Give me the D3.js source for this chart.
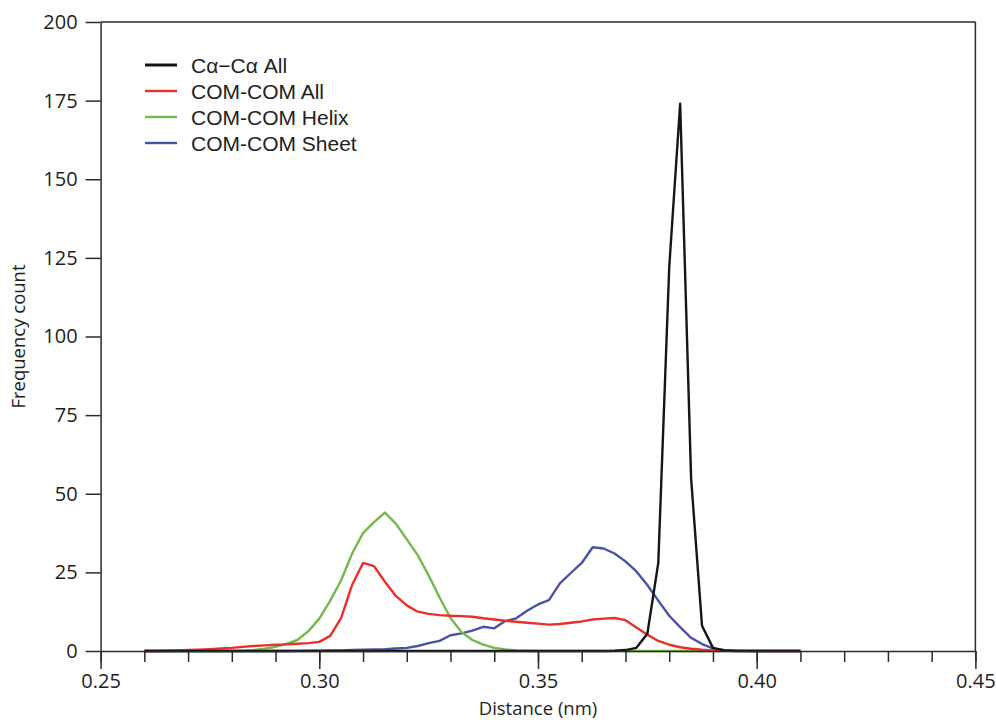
<!DOCTYPE html>
<html>
<head>
<meta charset="utf-8">
<script src="https://cdn.jsdelivr.net/npm/d3@7"></script>
<style>
  body { margin: 0; background: #fff; }
  svg { display: block; }
  .axis text { font-family: "Open Sans", "Noto Sans", sans-serif; font-size: 20px; fill: #1e1e1e; }
  .axis path, .axis line { stroke: #2a2a2a; stroke-width: 1.5; }
  .label { font-family: "Open Sans", "Noto Sans", sans-serif; font-size: 18.5px; fill: #1e1e1e; }
  .legend text { font-family: "Liberation Sans", Arial, sans-serif; font-size: 21px; fill: #222; }
</style>
</head>
<body>
<svg width="996" height="720"></svg>
<script>
// bin centres (nm)
var distance = [0.26, 0.2625, 0.265, 0.2675, 0.27, 0.2725, 0.275, 0.2775, 0.28, 0.2825,
  0.285, 0.2875, 0.29, 0.2925, 0.295, 0.2975, 0.30, 0.3025, 0.305, 0.3075,
  0.31, 0.3125, 0.315, 0.3175, 0.32, 0.3225, 0.325, 0.3275, 0.33, 0.3325,
  0.335, 0.3375, 0.34, 0.3425, 0.345, 0.3475, 0.35, 0.3525, 0.355, 0.3575,
  0.36, 0.3625, 0.365, 0.3675, 0.37, 0.3725, 0.375, 0.3775, 0.38, 0.3825,
  0.385, 0.3875, 0.39, 0.3925, 0.395, 0.3975, 0.40, 0.4025, 0.405, 0.4075, 0.41];

var caAll = [0, 0, 0, 0, 0, 0, 0, 0, 0, 0,
  0, 0, 0, 0, 0, 0, 0, 0, 0, 0,
  0, 0, 0, 0, 0, 0, 0, 0, 0, 0,
  0, 0, 0, 0, 0, 0, 0, 0, 0, 0,
  0, 0, 0, 0.1, 0.3, 1, 5.5, 28, 122, 174,
  55, 8, 1, 0.2, 0, 0, 0, 0, 0, 0, 0];

var comAll = [0, 0, 0.1, 0.2, 0.3, 0.45, 0.6, 0.8, 1.0, 1.3,
  1.6, 1.8, 2.0, 2.1, 2.3, 2.5, 2.9, 4.8, 10.5, 21,
  28, 27, 22, 17.5, 14.5, 12.5, 11.8, 11.4, 11.2, 11.1,
  10.9, 10.4, 10, 9.6, 9.3, 9.0, 8.7, 8.4, 8.6, 9.0,
  9.4, 10.0, 10.3, 10.5, 9.8, 7.5, 5.2, 3.2, 2.0, 1.2,
  0.7, 0.4, 0.2, 0.15, 0.1, 0.05, 0, 0, 0, 0, 0];

var comHelix = [0, 0, 0, 0, 0, 0, 0, 0, 0, 0,
  0.3, 0.7, 1.3, 2.3, 3.5, 6.3, 10.3, 16, 22.5, 31,
  37.5, 41, 44, 40.5, 35.5, 30.5, 24, 17, 10.5, 6,
  3.5, 2, 1, 0.5, 0.2, 0.1, 0, 0, 0, 0,
  0, 0, 0, 0, 0, 0, 0, 0, 0, 0,
  0, 0, 0, 0, 0, 0, 0, 0, 0, 0, 0];

var comSheet = [0, 0, 0, 0, 0, 0, 0, 0, 0, 0,
  0, 0, 0, 0, 0.05, 0.1, 0.1, 0.15, 0.2, 0.3,
  0.4, 0.5, 0.6, 0.8, 1.0, 1.6, 2.5, 3.2, 5.0, 5.6,
  6.5, 7.7, 7.2, 9.5, 10.4, 12.8, 14.8, 16.2, 21.5, 24.8,
  28, 33, 32.6, 31, 28.5, 25.3, 21, 16, 11.2, 7.6,
  4.2, 2.2, 0.8, 0.3, 0.1, 0.05, 0, 0, 0, 0, 0];

var seriesNames = ["C\u03b1\u2212C\u03b1 All", "COM-COM All", "COM-COM Helix", "COM-COM Sheet"];
var seriesColors = ["#151515", "#e8302a", "#74b94a", "#4a53a3"];
var seriesValues = [caAll, comAll, comHelix, comSheet];

var xMajor = [0.25, 0.30, 0.35, 0.40, 0.45];
var yTicks = [0, 25, 50, 75, 100, 125, 150, 175, 200];

var svg = d3.select("svg");

var x = d3.scaleLinear().domain([0.25, 0.45]).range([100.6, 975.4]);
var y = d3.scaleLinear().domain([0, 200]).range([651, 22]);

// frame: top and right
svg.append("line")
    .attr("x1", x(0.25)).attr("x2", x(0.45))
    .attr("y1", y(200)).attr("y2", y(200))
    .attr("stroke", "#2a2a2a").attr("stroke-width", 1.5);
svg.append("line")
    .attr("x1", x(0.45)).attr("x2", x(0.45))
    .attr("y1", y(200)).attr("y2", y(0))
    .attr("stroke", "#2a2a2a").attr("stroke-width", 1.5);

var line = d3.line()
    .x(function(d, i) { return x(distance[i]); })
    .y(function(d) { return y(d); });

// draw sheet, helix, all, then black on top
[3, 2, 1, 0].forEach(function(k) {
  svg.append("path")
      .datum(seriesValues[k])
      .attr("fill", "none")
      .attr("stroke", seriesColors[k])
      .attr("stroke-width", 2.4)
      .attr("stroke-linejoin", "round")
      .attr("d", line);
});

// minor x ticks
svg.append("g")
    .attr("class", "axis")
    .attr("transform", "translate(0," + y(0) + ")")
    .call(d3.axisBottom(x).ticks(20).tickSize(11).tickFormat(""))
    .call(function(g) { g.select(".domain").remove(); });

// major x ticks
svg.append("g")
    .attr("class", "axis")
    .attr("transform", "translate(0," + y(0) + ")")
    .call(d3.axisBottom(x).tickValues(xMajor).tickSize(18).tickSizeOuter(0)
      .tickPadding(5).tickFormat(d3.format(".2f")));

// y axis
svg.append("g")
    .attr("class", "axis")
    .attr("transform", "translate(" + x(0.25) + ",0)")
    .call(d3.axisLeft(y).tickValues(yTicks).tickSize(15).tickSizeOuter(0).tickPadding(8));

svg.append("text")
    .attr("class", "label")
    .attr("x", (x(0.25) + x(0.45)) / 2)
    .attr("y", 715)
    .attr("text-anchor", "middle")
    .text("Distance (nm)");

svg.append("text")
    .attr("class", "label")
    .attr("transform", "translate(25," + (y(0) + y(200)) / 2 + ") rotate(-90)")
    .attr("text-anchor", "middle")
    .text("Frequency count");

// legend
var legend = svg.append("g").attr("class", "legend");
seriesNames.forEach(function(name, i) {
  var ly = 65 + i * 26;
  legend.append("line")
      .attr("x1", 145).attr("x2", 177)
      .attr("y1", ly).attr("y2", ly)
      .attr("stroke", seriesColors[i])
      .attr("stroke-width", i === 0 ? 3 : 2.4);
  legend.append("text")
      .attr("x", 191)
      .attr("y", ly)
      .attr("dy", "0.36em")
      .text(name);
});
</script>
</body>
</html>
